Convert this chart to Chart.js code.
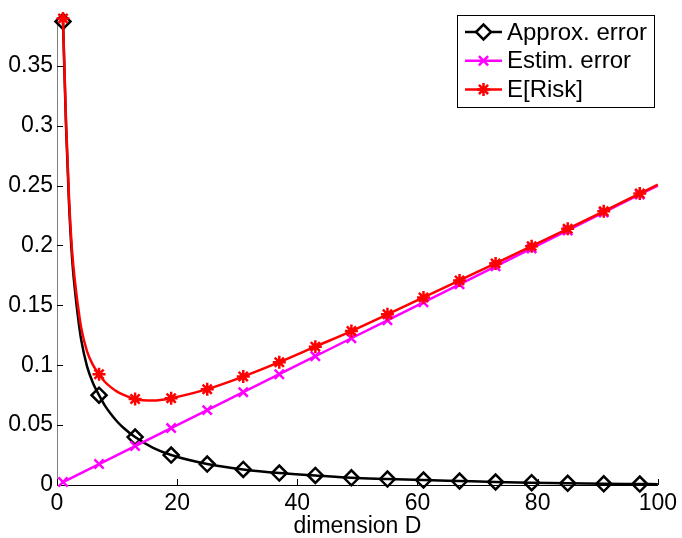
<!DOCTYPE html>
<html>
<head>
<meta charset="utf-8">
<script src="https://cdn.jsdelivr.net/npm/chart.js"></script>
<style>
  html, body { margin: 0; padding: 0; background: #fff; }
  #wrap { width: 682px; height: 538px; }
</style>
</head>
<body>
<div id="wrap"><canvas id="c" width="682" height="538"></canvas></div>
<script>
// marker positions (dimension D) and values
const markD = [1, 7, 13, 19, 25, 31, 37, 43, 49, 55, 61, 67, 73, 79, 85, 91, 97];
const approxMarks = [0.387, 0.075, 0.040, 0.025, 0.0175, 0.013, 0.010, 0.008, 0.006, 0.005, 0.0041, 0.0033, 0.0025, 0.0019, 0.0014, 0.001, 0.0008];
const estimMarks = [0.0025, 0.0175, 0.0325, 0.0475, 0.0625, 0.0775, 0.0925, 0.1075, 0.1225, 0.1375, 0.1525, 0.1675, 0.1825, 0.1975, 0.2125, 0.2275, 0.2425];
const riskMarks = [0.3895, 0.0925, 0.0718, 0.0725, 0.0800, 0.0905, 0.1025, 0.1155, 0.1285, 0.1425, 0.1566, 0.1708, 0.1850, 0.1994, 0.2139, 0.2285, 0.2433];

// curves (denser where they bend)
const curveD = [1, 1.5, 2, 2.5, 3, 3.5, 4, 5, 6, 7, 8, 9, 10, 11, 13, 16, 19, 25, 31, 37, 43, 49, 55, 61, 67, 73, 79, 85, 91, 97, 100];
const approxCurve = [0.387, 0.300, 0.235, 0.190, 0.162, 0.140, 0.122, 0.099, 0.085, 0.075, 0.066, 0.059, 0.053, 0.048, 0.040, 0.031, 0.025, 0.0175, 0.013, 0.010, 0.008, 0.006, 0.005, 0.0041, 0.0033, 0.0025, 0.0019, 0.0014, 0.001, 0.0008, 0.0007];
const estimCurve = [0.0025, 0.00375, 0.005, 0.00625, 0.0075, 0.00875, 0.01, 0.0125, 0.015, 0.0175, 0.02, 0.0225, 0.025, 0.0275, 0.0325, 0.04, 0.0475, 0.0625, 0.0775, 0.0925, 0.1075, 0.1225, 0.1375, 0.1525, 0.1675, 0.1825, 0.1975, 0.2125, 0.2275, 0.2425, 0.25];
const riskCurve = [0.3895, 0.304, 0.240, 0.196, 0.1695, 0.149, 0.132, 0.1115, 0.100, 0.0925, 0.086, 0.0815, 0.078, 0.0755, 0.0718, 0.0705, 0.0725, 0.080, 0.0905, 0.1025, 0.1155, 0.1285, 0.1425, 0.1566, 0.1708, 0.185, 0.1994, 0.2139, 0.2285, 0.2433, 0.2507];

const xTicks = [0, 20, 40, 60, 80, 100];
const yTicks = [0, 0.05, 0.1, 0.15, 0.2, 0.25, 0.3, 0.35];

const FONT = "'Liberation Sans', Arial, Helvetica, sans-serif";

const series = [
  { label: 'Approx. error', color: '#000000', style: 'rectRot', r: 7.5, curve: approxCurve, marks: approxMarks },
  { label: 'Estim. error', color: '#ff00ff', style: 'crossRot', r: 6.5, curve: estimCurve, marks: estimMarks },
  { label: 'E[Risk]', color: '#ff0000', style: 'star', r: 6.5, curve: riskCurve, marks: riskMarks }
];

const pts = (xs, ys) => xs.map((x, i) => ({ x: x, y: ys[i] }));

const datasets = [];
series.forEach((s, i) => {
  const ord = 2 - i; // red on top
  datasets.push({
    label: s.label,
    data: pts(curveD, s.curve),
    borderColor: s.color,
    borderWidth: 2.5,
    pointRadius: 0,
    cubicInterpolationMode: 'monotone',
    fill: false,
    order: ord,
    clip: false
  });
  datasets.push({
    label: s.label + ' marks',
    data: pts(markD, s.marks),
    showLine: false,
    pointStyle: s.style,
    pointRadius: s.r,
    pointBorderWidth: 2.5,
    pointBorderColor: s.color,
    pointBackgroundColor: 'rgba(0,0,0,0)',
    order: ord,
    clip: false
  });
});

// inward tick marks like the original
const inTicks = {
  id: 'inTicks',
  beforeDatasetsDraw(chart) {
    const { ctx, chartArea: a, scales: { x, y } } = chart;
    ctx.save();
    ctx.lineWidth = 1;
    ctx.strokeStyle = '#000';
    ctx.beginPath();
    y.ticks.forEach(t => {
      const py = Math.round(y.getPixelForValue(t.value)) + 0.5;
      ctx.moveTo(a.left, py); ctx.lineTo(a.left + 6, py);
    });
    x.ticks.forEach(t => {
      const px = Math.round(x.getPixelForValue(t.value)) + 0.5;
      ctx.moveTo(px, a.bottom); ctx.lineTo(px, a.bottom - 6);
    });
    ctx.stroke();
    ctx.restore();
  }
};

// matlab style legend box: line + marker + text
const boxLegend = {
  id: 'boxLegend',
  afterDraw(chart) {
    const ctx = chart.ctx;
    const bx = 457.5, by = 15.5, bw = 197, bh = 92;
    ctx.save();
    ctx.fillStyle = '#fff';
    ctx.fillRect(bx, by, bw, bh);
    ctx.strokeStyle = '#000';
    ctx.lineWidth = 1;
    ctx.strokeRect(bx, by, bw, bh);
    ctx.font = '24px ' + FONT;
    ctx.textBaseline = 'middle';
    ctx.textAlign = 'left';
    series.forEach((s, i) => {
      const cy = 32 + i * 28.7;
      ctx.strokeStyle = s.color;
      ctx.lineWidth = 2.5;
      ctx.beginPath();
      ctx.moveTo(465, cy); ctx.lineTo(502, cy);
      ctx.stroke();
      ctx.fillStyle = s.style === 'rectRot' ? '#fff' : 'rgba(0,0,0,0)';
      Chart.helpers.drawPoint(ctx, { pointStyle: s.style, radius: s.r, borderWidth: 2.5, rotation: 0 }, 483.5, cy);
      ctx.fillStyle = '#000';
      ctx.fillText(s.label, 507, cy + 1);
    });
    ctx.restore();
  }
};

new Chart(document.getElementById('c'), {
  type: 'line',
  data: { datasets: datasets },
  plugins: [inTicks, boxLegend],
  options: {
    responsive: false,
    devicePixelRatio: 1,
    animation: false,
    layout: { padding: { left: 0, top: 13, right: 21, bottom: 0 } },
    plugins: { legend: { display: false }, tooltip: { enabled: false } },
    scales: {
      x: {
        type: 'linear',
        min: 0,
        max: 100,
        afterBuildTicks: sc => { sc.ticks = xTicks.map(v => ({ value: v })); },
        afterFit: sc => { sc.height = 53; },
        grid: { display: false, drawTicks: false },
        border: { display: true, color: '#000', width: 1 },
        ticks: { color: '#000', padding: 5, maxRotation: 0, font: { family: FONT, size: 23 } },
        title: { display: true, text: 'dimension D', color: '#000', padding: 0, font: { family: FONT, size: 23, lineHeight: 1 } }
      },
      y: {
        type: 'linear',
        min: 0,
        max: 0.39,
        afterBuildTicks: sc => { sc.ticks = yTicks.map(v => ({ value: v })); },
        afterFit: sc => { sc.width = 57; },
        grid: { display: false, drawTicks: false },
        border: { display: true, color: '#808080', width: 1 },
        ticks: {
          color: '#000', padding: 4,
          font: { family: FONT, size: 23 },
          callback: v => String(+v.toFixed(2))
        }
      }
    }
  }
});
</script>
</body>
</html>
